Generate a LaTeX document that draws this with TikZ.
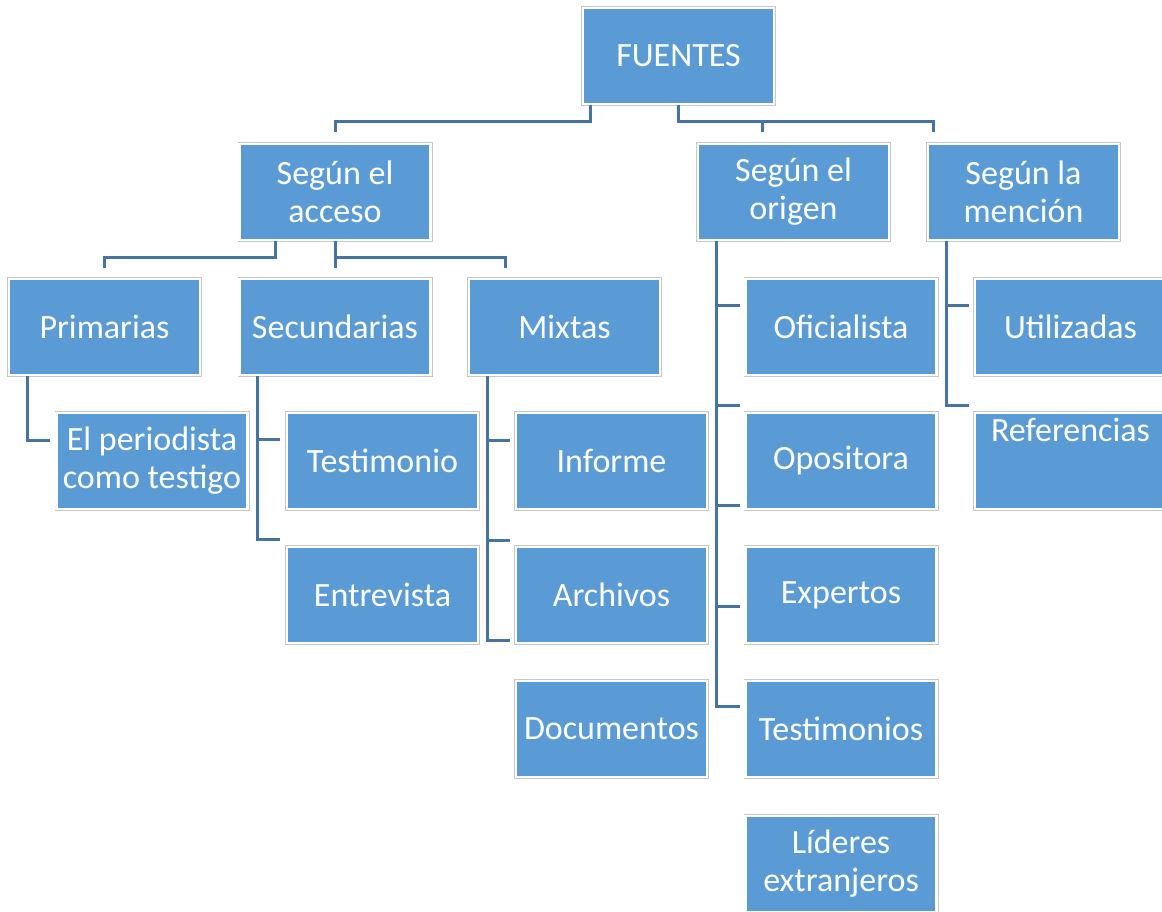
\documentclass[tikz,border=0pt]{standalone}
\usepackage{fontspec}
\setmainfont{Carlito}
\definecolor{boxblue}{HTML}{5B9BD5}
\definecolor{linkblue}{HTML}{4672A4}
\begin{document}
\begin{tikzpicture}[x=1pt,y=-1pt,
  box/.style={fill=boxblue, draw=white, line width=2.5pt,
    preaction={draw=black!22, line width=4pt},
    minimum width=191pt, minimum height=96pt, inner sep=0pt,
    align=center, text=white, font=\fontsize{34}{38}\selectfont},
  link/.style={draw=linkblue, line width=3pt}]
\useasboundingbox (0,0) rectangle (1162,911);

% nodes
\node[box] (fuentes) at (678.5,56) {FUENTES};
\node[box] (acceso) at (335,192) {Según el\\acceso};
\node[box] (origen) at (793.5,192) {Según el\\origen};
\node[box] (mencion) at (1023.5,192) {Según la\\mención};
\node[box] (prim) at (104.5,327) {Primarias};
\node[box] (sec) at (335,327) {Secundarias};
\node[box] (mix) at (564.5,327) {Mixtas};
\node[box] (periodista) at (152,461) {El periodista\\como testigo};
\node[box] (testimonio) at (382.5,461) {Testimonio};
\node[box] (entrevista) at (382.5,595) {Entrevista};
\node[box] (informe) at (611.5,461) {Informe};
\node[box] (archivos) at (611.5,595) {Archivos};
\node[box] (documentos) at (611.5,729) {Documentos};
\node[box] (oficialista) at (841,327) {Oficialista};
\node[box] (opositora) at (841,461) {Opositora};
\node[box] (expertos) at (841,595) {Expertos};
\node[box] (testimonios) at (841,729) {Testimonios};
\node[box] (lideres) at (841,864) {Líderes\\extranjeros};
\node[box] (utilizadas) at (1070.5,327) {Utilizadas};
\node[box, text depth=62pt] (referencias) at (1070.5,461) {Referencias};

% free ends of the ticks
\coordinate (p1) at (50,440);
\coordinate (s1) at (280,439);
\coordinate (s2) at (280,539);
\coordinate (m1) at (510,440);
\coordinate (m2) at (510,540);
\coordinate (m3) at (510,640);
\coordinate (o1) at (740,305);
\coordinate (o2) at (740,405);
\coordinate (o3) at (740,505);
\coordinate (o4) at (740,606);
\coordinate (o5) at (740,706);
\coordinate (n1) at (969,305);
\coordinate (n2) at (969,405);

% top level
\draw[link] ([xshift=9pt]fuentes.south west) -- ++(0,16) -| ([yshift=11pt]acceso.north);
\draw[link] (fuentes.south) -- ++(0,16) -| ([xshift=66pt,yshift=11pt]origen.north west);
\draw[link] (fuentes.south) ++(0,16) -| ([xshift=7pt,yshift=11pt]mencion.north west);

% acceso
\draw[link] ([xshift=37pt]acceso.south west) -- ++(0,16) -| ([yshift=10pt]prim.north);
\draw[link] (acceso.south) -- ([yshift=10pt]sec.north);
\draw[link] (acceso.south) ++(0,16) -| ([xshift=38pt,yshift=10pt]mix.north west);

% children lists
\draw[link] ([xshift=20pt]prim.south west) |- (p1);
\draw[link] ([xshift=19pt]sec.south west) |- (s2);
\draw[link] ([xshift=19pt]sec.south west) |- (s1);
\draw[link] ([xshift=20pt]mix.south west) |- (m3);
\draw[link] ([xshift=20pt]mix.south west) |- (m2);
\draw[link] ([xshift=20pt]mix.south west) |- (m1);
\draw[link] ([xshift=20pt]origen.south west) |- (o5);
\draw[link] ([xshift=20pt]origen.south west) |- (o4);
\draw[link] ([xshift=20pt]origen.south west) |- (o3);
\draw[link] ([xshift=20pt]origen.south west) |- (o2);
\draw[link] ([xshift=20pt]origen.south west) |- (o1);
\draw[link] ([xshift=20pt]mencion.south west) |- (n2);
\draw[link] ([xshift=20pt]mencion.south west) |- (n1);
\end{tikzpicture}
\end{document}
